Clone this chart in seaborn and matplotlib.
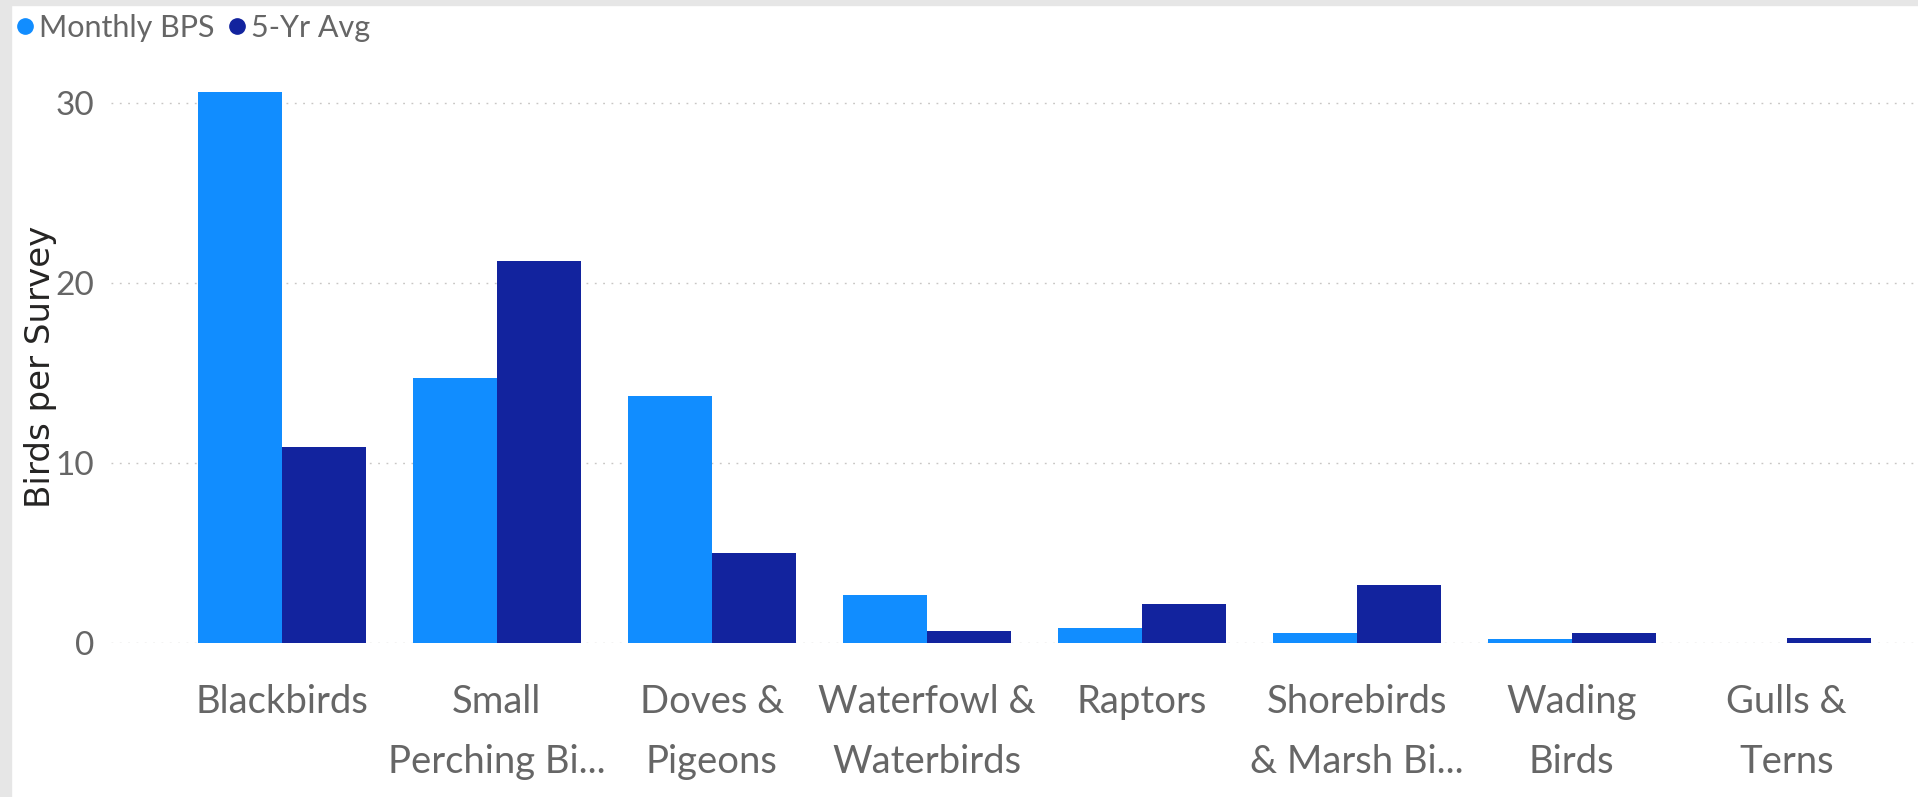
import matplotlib
matplotlib.use("Agg")
import matplotlib.pyplot as plt
from matplotlib.lines import Line2D
from matplotlib.patches import Rectangle
import seaborn as sns
import pandas as pd

# data
categories = ["Blackbirds", "Small\nPerching Bi...", "Doves &\nPigeons", "Waterfowl &\nWaterbirds",
              "Raptors", "Shorebirds\n& Marsh Bi...", "Wading\nBirds", "Gulls &\nTerns"]
monthly_bps = [30.6, 14.7, 13.7, 2.67, 0.83, 0.52, 0.19, 0.0]
five_yr_avg = [10.9, 21.2, 5.0, 0.67, 2.15, 3.22, 0.52, 0.28]
series_names = ["Monthly BPS", "5-Yr Avg"]
y_ticks = [0, 10, 20, 30]

df = pd.DataFrame({
    "category": categories * 2,
    "value": monthly_bps + five_yr_avg,
    "series": [series_names[0]] * len(categories) + [series_names[1]] * len(categories),
})

colors = ["#118DFF", "#12239E"]
label_gray = "#666666"
W, H = 1918, 797

sns.set_theme(style="white")
plt.rcParams["font.family"] = ["Lato", "DejaVu Sans"]

fig = plt.figure(figsize=(W / 100, H / 100), dpi=100, facecolor="white")

# grey frame strips at top and left of the screenshot
fig.patches.append(Rectangle((0, 0), 11 / W, 1, transform=fig.transFigure, color="#E6E6E6", zorder=0))
fig.patches.append(Rectangle((0, 1 - 5 / H), 1, 5 / H, transform=fig.transFigure, color="#E6E6E6", zorder=0))

ax = fig.add_axes([111 / W, (H - 642.7) / H, 1804 / W, 576 / H])
sns.barplot(data=df, x="category", y="value", hue="series", palette=colors, saturation=1,
            width=0.781, gap=0, linewidth=0, legend=False, ax=ax)

ax.set_xlim(-0.794, 7.597)
ax.set_ylim(0, 32)
ax.set_yticks(y_ticks)
ax.set_yticklabels([str(t) for t in y_ticks])
ax.yaxis.grid(True, color="#C8C6C4", linestyle=(0, (1.3, 4.7)), linewidth=1)
ax.set_axisbelow(True)
for s in ax.spines.values():
    s.set_visible(False)

ax.tick_params(axis="y", length=0, pad=12, labelsize=24, labelcolor=label_gray)
ax.tick_params(axis="x", length=0, pad=30, labelcolor=label_gray)
for lab in ax.get_xticklabels():
    lab.set_fontsize(27.5)
    lab.set_linespacing(1.8)

ax.set_xlabel("")
ax.set_ylabel("Birds per Survey", fontsize=24.5, color="#252423", family="DejaVu Sans",
              rotation=90, va="center", ha="center")
ax.yaxis.set_label_coords(-70 / 1804, (642.7 - 367) / 576)

handles = [Line2D([], [], marker="o", linestyle="", markersize=11, color=c) for c in colors]
fig.legend(handles, series_names, loc="upper left", bbox_to_anchor=(16 / W, 1 - 14 / H),
           frameon=False, labelcolor=label_gray, ncol=2,
           handlelength=0.6, handletextpad=0.15, columnspacing=0.45, borderpad=0, borderaxespad=0,
           prop={"family": "Lato", "size": 22})

fig.savefig("out.png", dpi=100, facecolor="white")
